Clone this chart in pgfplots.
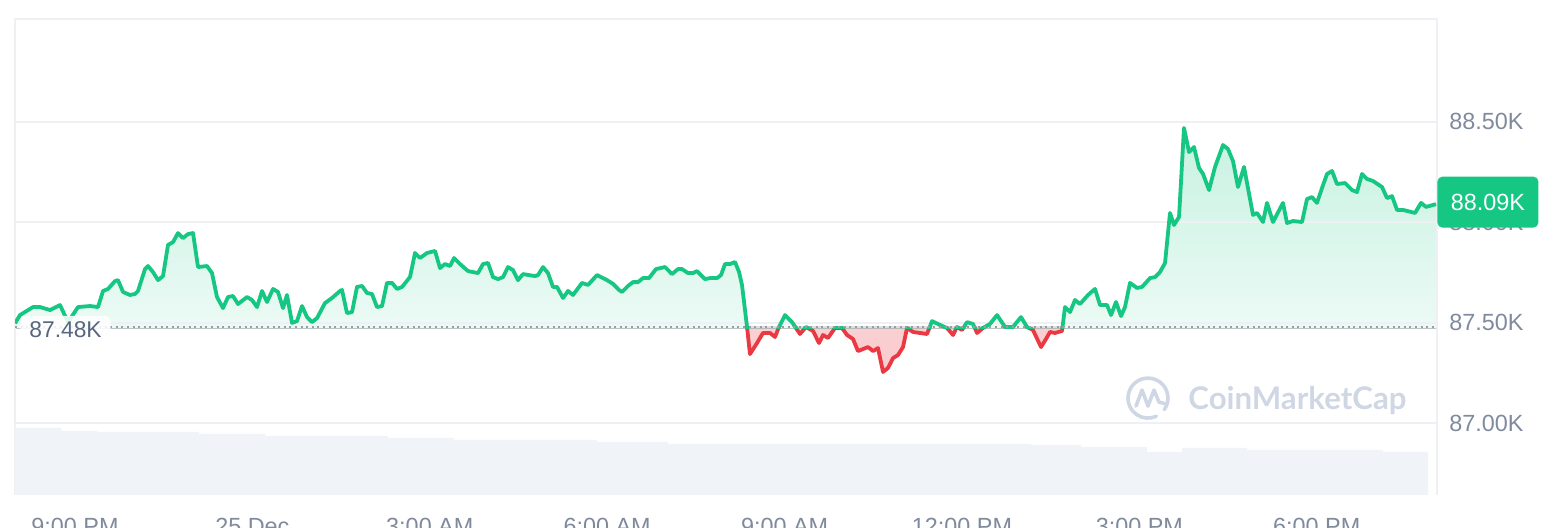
\documentclass[border=0pt]{standalone}
\usepackage{pgfplots}
\pgfplotsset{compat=1.18}
\usepackage{pgfplotstable}
\usepgfplotslibrary{fillbetween}
\usepackage{fontspec}
\setmainfont{Liberation Sans}
\newfontfamily\wmfont{Lato}
\definecolor{cmcgreen}{RGB}{22,199,132}
\definecolor{cmcred}{RGB}{234,57,67}
\definecolor{gridc}{RGB}{238,240,243}
\definecolor{tickc}{RGB}{128,138,157}
\definecolor{labc}{RGB}{88,102,126}
\definecolor{volc}{RGB}{240,243,247}
\definecolor{wmc}{RGB}{207,214,228}
\definecolor{dotc}{RGB}{150,158,172}

\pgfplotstableread{
h v
-1.015 87.497
-0.930 87.538
-0.710 87.578
-0.592 87.578
-0.423 87.563
-0.254 87.588
-0.118 87.503
0.051 87.578
0.254 87.583
0.389 87.578
0.474 87.658
0.558 87.668
0.676 87.707
0.727 87.712
0.812 87.653
0.930 87.638
1.015 87.643
1.065 87.658
1.184 87.767
1.235 87.782
1.319 87.752
1.404 87.712
1.488 87.732
1.573 87.887
1.657 87.901
1.742 87.946
1.826 87.921
1.911 87.941
1.996 87.946
2.080 87.777
2.232 87.782
2.317 87.747
2.401 87.628
2.503 87.573
2.588 87.628
2.672 87.633
2.757 87.593
2.909 87.628
2.993 87.613
3.078 87.578
3.163 87.658
3.247 87.603
3.349 87.668
3.433 87.653
3.518 87.573
3.585 87.638
3.670 87.499
3.754 87.508
3.839 87.583
3.924 87.528
4.008 87.503
4.093 87.523
4.228 87.598
4.346 87.623
4.482 87.658
4.515 87.663
4.600 87.548
4.685 87.553
4.769 87.678
4.854 87.683
4.938 87.648
5.023 87.643
5.107 87.578
5.192 87.583
5.276 87.698
5.361 87.698
5.446 87.668
5.530 87.678
5.665 87.727
5.750 87.847
5.835 87.822
5.953 87.847
6.088 87.857
6.173 87.772
6.257 87.792
6.342 87.782
6.410 87.822
6.511 87.792
6.646 87.757
6.815 87.747
6.900 87.792
6.985 87.797
7.069 87.727
7.154 87.717
7.238 87.727
7.323 87.777
7.407 87.762
7.492 87.712
7.577 87.742
7.779 87.732
7.830 87.737
7.915 87.777
7.999 87.747
8.084 87.678
8.152 87.678
8.253 87.623
8.338 87.658
8.422 87.638
8.574 87.698
8.676 87.688
8.828 87.737
8.997 87.712
9.099 87.693
9.200 87.663
9.251 87.653
9.352 87.683
9.437 87.702
9.521 87.702
9.606 87.722
9.707 87.722
9.826 87.767
9.978 87.777
10.096 87.742
10.198 87.767
10.265 87.767
10.367 87.747
10.451 87.747
10.519 87.757
10.654 87.717
10.739 87.722
10.857 87.722
10.925 87.737
10.993 87.792
11.077 87.792
11.162 87.802
11.230 87.752
11.280 87.688
11.365 87.479
11.415 87.344
11.534 87.399
11.635 87.449
11.754 87.449
11.838 87.429
11.906 87.479
12.007 87.538
12.126 87.503
12.261 87.444
12.362 87.479
12.481 87.459
12.582 87.399
12.650 87.439
12.734 87.424
12.853 87.474
12.971 87.474
13.056 87.439
13.157 87.419
13.242 87.359
13.327 87.369
13.411 87.379
13.496 87.359
13.580 87.374
13.665 87.255
13.749 87.275
13.834 87.324
13.918 87.339
14.003 87.379
14.071 87.474
14.173 87.454
14.409 87.444
14.494 87.508
14.629 87.489
14.747 87.474
14.849 87.439
14.916 87.479
15.001 87.464
15.085 87.503
15.187 87.494
15.255 87.449
15.356 87.474
15.474 87.494
15.593 87.538
15.728 87.479
15.863 87.479
15.998 87.528
16.100 87.479
16.201 87.464
16.337 87.379
16.421 87.419
16.489 87.454
16.573 87.449
16.692 87.459
16.743 87.578
16.827 87.553
16.912 87.613
16.996 87.593
17.132 87.638
17.250 87.668
17.335 87.588
17.453 87.588
17.521 87.538
17.605 87.603
17.690 87.533
17.757 87.578
17.842 87.698
17.960 87.673
18.045 87.678
18.180 87.722
18.265 87.727
18.349 87.752
18.434 87.797
18.518 88.046
18.586 87.986
18.671 88.026
18.755 88.469
18.840 88.349
18.924 88.374
19.009 88.270
19.077 88.240
19.178 88.160
19.280 88.275
19.415 88.384
19.499 88.364
19.584 88.304
19.668 88.175
19.770 88.275
19.922 88.036
19.990 88.046
20.091 88.001
20.159 88.096
20.260 88.001
20.429 88.096
20.497 87.996
20.599 88.006
20.751 88.001
20.835 88.115
20.920 88.125
21.004 88.096
21.089 88.170
21.174 88.240
21.258 88.255
21.343 88.190
21.478 88.195
21.596 88.160
21.681 88.150
21.766 88.240
21.850 88.215
21.952 88.205
22.104 88.175
22.189 88.120
22.273 88.130
22.358 88.061
22.459 88.061
22.662 88.046
22.764 88.096
22.848 88.076
23.017 88.090
}\price

\pgfplotstableread{
h vol
-1.015 67
-0.237 64
0.372 63
2.097 61
3.213 59
5.293 57
6.410 55
8.828 53
10.029 51
16.168 50
17.014 48
18.130 43
18.722 47
19.821 45
22.121 43
22.882 43
}\volume

\pgfplotsset{
  base/.style={
    anchor=south west, scale only axis, width=711pt,
    xmin=-1.015, xmax=23.034,
  },
}

\begin{document}
\begin{tikzpicture}

% background: grid, frame, tick labels
\begin{axis}[base, at={(7.5pt,16.5pt)}, height=238pt,
  ymin=86.643, ymax=89.011,
  axis line style={draw=none},
  ytick={87,87.5,88,88.5}, yticklabels={87.00K,87.50K,88.00K,88.50K},
  yticklabel pos=right,
  ymajorgrids, grid style={gridc, line width=1pt},
  xtick={0,3,6,9,12,15,18,21},
  xticklabels={9:00 PM,25 Dec,3:00 AM,6:00 AM,9:00 AM,12:00 PM,3:00 PM,6:00 PM},
  major tick length=0pt,
  tick label style={font=\fontsize{11.7}{14}\selectfont, text=tickc},
  yticklabel style={anchor=west, inner sep=0pt, xshift=6pt},
  xticklabel style={anchor=north, inner sep=0pt, yshift=-11.6pt},
  clip=false,
]
\draw[gridc, line width=1pt] (rel axis cs:0,0) -- (rel axis cs:0,1) -- (rel axis cs:1,1) -- (rel axis cs:1,0);
\end{axis}

% volume
\begin{axis}[base, at={(7.5pt,16.5pt)}, height=238pt, ymin=0, ymax=476, hide axis]
\addplot[const plot mark left, fill=volc, draw=none] table[x=h,y=vol]{\volume} \closedcycle;
\end{axis}

% below the reference price: red
\begin{axis}[base, at={(7.5pt,16.5pt)}, height=84.12pt, ymin=86.643, ymax=87.48, hide axis]
\addplot[name path=pd, draw=none] table[x=h,y=v]{\price};
\addplot[name path=bd, draw=none] coordinates {(-1.015,87.48) (23.034,87.48)};
\addplot[draw=none, top color=cmcred!14!white, bottom color=cmcred!26!white] fill between[of=pd and bd];
\addplot[cmcred, line width=1.9pt, line join=round] table[x=h,y=v]{\price};
\end{axis}

% above the reference price: green (drawn last, reaching a hair below the reference line)
\begin{axis}[base, at={(7.5pt,99.82pt)}, height=154.68pt, ymin=87.472, ymax=89.011, hide axis]
\addplot[name path=pu, draw=none] table[x=h,y=v]{\price};
\addplot[name path=bu, draw=none] coordinates {(-1.015,87.472) (23.034,87.472)};
\addplot[draw=none, top color=cmcgreen!24!white, bottom color=cmcgreen!5!white] fill between[of=pu and bu];
\addplot[cmcgreen, line width=1.9pt, line join=round] table[x=h,y=v]{\price};
\end{axis}

% overlay: reference line, labels, badge, watermark
\begin{axis}[base, at={(7.5pt,16.5pt)}, height=238pt, ymin=86.643, ymax=89.011, hide axis, clip=false]
\addplot[dotc, line width=1pt, dash pattern=on 1pt off 1.8pt] coordinates {(-1.015,87.48) (23.034,87.48)};
\node[anchor=west, fill=white, fill opacity=0.85, text opacity=1, rounded corners=3pt,
  inner xsep=4.5pt, inner ysep=3pt, text=labc, font=\fontsize{11.4}{14}\selectfont,
  xshift=2.5pt, yshift=-1.6pt] at (axis cs:-1.015,87.48) {87.48K};
\node[anchor=west, fill=cmcgreen, text=white, rounded corners=2.5pt, minimum width=50.5pt,
  minimum height=25.5pt, inner sep=0pt, font=\fontsize{11.7}{14}\selectfont]
  at (axis cs:23.034,88.10) {88.09K};
\draw[wmc, line width=1.8pt, line cap=round] (axis cs:18.146,87.125) ++(-35:10pt) arc[start angle=-35, end angle=295, radius=10pt];
\draw[wmc, line width=1.8pt, line cap=round, line join=round] (axis cs:18.146,87.125)
  ++(-6pt,-4pt) -- ++(3pt,8pt) -- ++(3pt,-8pt) -- ++(3pt,8pt) -- ++(2.5pt,-6pt) -- ++(4pt,-1pt);
\node[anchor=west, inner sep=0pt, text=wmc, font=\wmfont\bfseries\fontsize{15.6}{18}\selectfont]
  at (axis cs:18.823,87.115) {CoinMarketCap};
\end{axis}

\pgfresetboundingbox
\useasboundingbox (0,0) rectangle (783pt,264pt);
\end{tikzpicture}
\end{document}
